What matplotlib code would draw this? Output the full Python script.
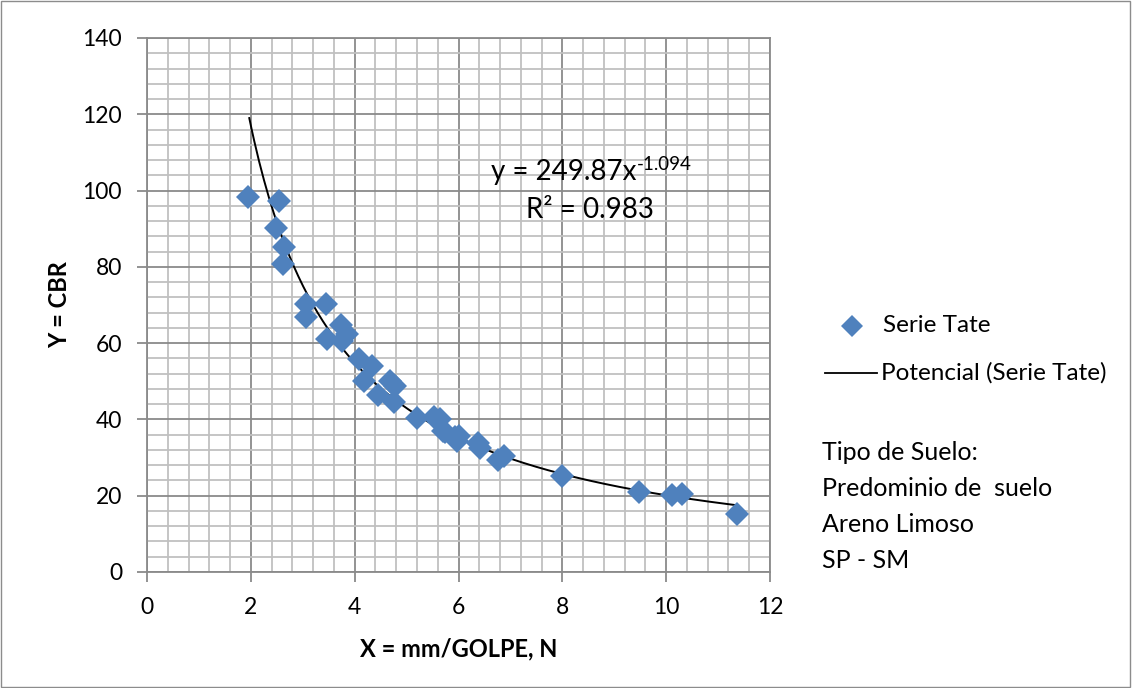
import numpy as np
import matplotlib.pyplot as plt
from matplotlib.lines import Line2D
from matplotlib.patches import Rectangle

# data
mm_golpe = [1.95, 2.54, 2.49, 2.63, 2.61, 3.06, 3.07, 3.45, 3.74, 3.85, 3.46, 3.75,
            4.09, 4.33, 4.18, 4.68, 4.78, 4.44, 4.75, 5.2, 5.52, 5.65, 5.71, 5.93,
            5.74, 6.0, 5.97, 6.38, 6.42, 6.77, 6.87, 7.99, 9.47, 10.12, 10.31, 11.36]
cbr = [98.3, 97.3, 90.2, 85.2, 80.8, 70.2, 66.9, 70.3, 64.8, 62.4, 61.2, 60.6,
       55.8, 54.0, 50.2, 50.2, 48.8, 46.5, 44.6, 40.3, 40.6, 40.1, 37.0, 35.4,
       36.6, 35.7, 34.3, 33.8, 32.4, 29.3, 30.3, 25.2, 21.1, 20.2, 20.4, 15.1]

coef_a = 249.87
coef_b = -1.094

blue = '#4F81BD'
plt.rcParams['font.family'] = ['Lato', 'DejaVu Sans']

W, H = 1132, 688
fig = plt.figure(figsize=(W / 100, H / 100), dpi=100)
fig.patches.append(Rectangle((0.0005, 0.0008), 0.998, 0.998, transform=fig.transFigure,
                             fill=False, edgecolor='#8c8c8c', linewidth=1))

ax = fig.add_axes([147 / W, 1 - 572 / H, (770 - 147) / W, (572 - 38) / H])

xs = np.linspace(1.97, max(mm_golpe), 200)
ax.plot(xs, coef_a * xs ** coef_b, color='black', linewidth=1.4, zorder=3)
ax.plot(mm_golpe, cbr, linestyle='none', marker='D', markersize=12.5,
        color=blue, markeredgewidth=0, zorder=4)

ax.set_xlim(0, 12)
ax.set_ylim(0, 140)
ax.set_xticks(np.arange(0, 13, 2))
ax.set_yticks(np.arange(0, 141, 20))
ax.set_xticks(np.arange(0, 12.01, 0.4), minor=True)
ax.set_yticks(np.arange(0, 141, 4), minor=True)
ax.grid(which='minor', color='#c0c0c0', linewidth=1.3)
ax.grid(which='major', color='#8a8a8a', linewidth=1.3)
ax.set_axisbelow(True)
ax.tick_params(which='major', labelsize=16.5, length=7, color='#8a8a8a', width=1.3)
ax.tick_params(axis='y', pad=11)
ax.tick_params(axis='x', pad=11)
ax.tick_params(which='minor', length=0)
for s in ax.spines.values():
    s.set_color('#8a8a8a')
    s.set_linewidth(1.3)

ax.set_xlabel('X = mm/GOLPE, N', fontsize=17, fontweight='bold', labelpad=14)
ax.set_ylabel('Y = CBR', fontsize=17, fontweight='bold', labelpad=8)

# trendline equation (superscript kept as a plain hyphen like the original)
eq = ax.text(6.63, 102.8, 'y = 249.87x', fontsize=20, ha='left', va='baseline')
ax.annotate('-1.094', xy=(1, 1), xycoords=eq, xytext=(0, 2), textcoords='offset points',
            fontsize=13.5, ha='left', va='top')
ax.text(8.54, 92.8, 'R² = 0.983', fontsize=20, ha='center', va='baseline')

# legend and soil note
fig.add_artist(Line2D([852 / W], [1 - 326 / H], marker='D', markersize=11,
                      color=blue, markeredgewidth=0, transform=fig.transFigure))
fig.text(883 / W, 1 - 326 / H, 'Serie Tate', fontsize=17.5, va='center')
fig.add_artist(Line2D([825 / W, 877 / W], [1 - 373 / H, 1 - 373 / H],
                      color='black', linewidth=1.3, transform=fig.transFigure))
fig.text(881 / W, 1 - 373 / H, 'Potencial (Serie Tate)', fontsize=17.5, va='center')

soil = ['Tipo de Suelo:', 'Predominio de  suelo', 'Areno Limoso', 'SP - SM']
for i, line in enumerate(soil):
    fig.text(822 / W, 1 - (460 + i * 36) / H, line, fontsize=18, va='baseline')

fig.savefig('out.png', dpi=100)
